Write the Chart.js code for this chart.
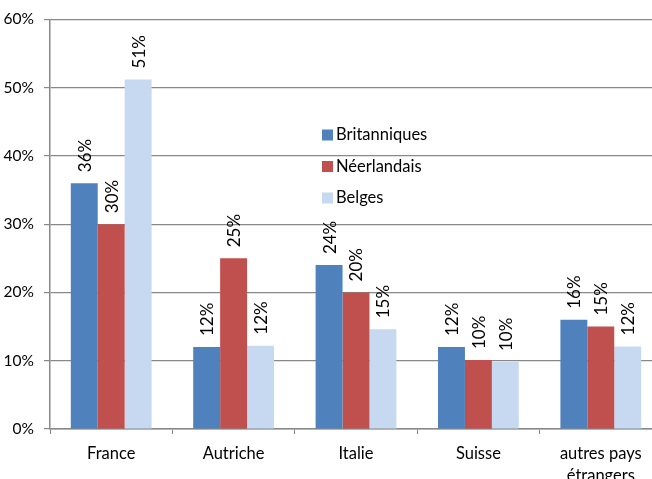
<!DOCTYPE html>
<html>
<head>
<meta charset="utf-8">
<script src="https://cdn.jsdelivr.net/npm/chart.js@4/dist/chart.umd.min.js"></script>
<style>
  html, body { margin: 0; padding: 0; background: #fff; overflow: hidden; }
  #wrap { width: 664px; height: 479px; }
</style>
</head>
<body>
<div id="wrap"><canvas id="barChart" width="664" height="479"></canvas></div>
<script>
// data
const categories = ['France', 'Autriche', 'Italie', 'Suisse', ['autres pays', 'étrangers']];
const seriesNames = ['Britanniques', 'Néerlandais', 'Belges'];
const britanniques = [36, 12, 24, 12, 16];
const neerlandais = [30, 25, 20, 10.1, 15];
const belges = [51.2, 12.2, 14.6, 9.8, 12.1];
const seriesColors = ['#4F81BD', '#C0504D', '#C6D9F1'];

const FONT = 'Lato, "Open Sans", sans-serif';

// rotated value labels above the bars
const valueLabels = {
  id: 'valueLabels',
  afterDatasetsDraw(chart) {
    const ctx = chart.ctx;
    ctx.save();
    ctx.font = '17px ' + FONT;
    ctx.fillStyle = '#000';
    ctx.textAlign = 'left';
    ctx.textBaseline = 'middle';
    chart.data.datasets.forEach(function (ds, i) {
      chart.getDatasetMeta(i).data.forEach(function (bar, j) {
        ctx.save();
        ctx.translate(bar.x + 1, bar.y - 11);
        ctx.rotate(-Math.PI / 2);
        ctx.fillText(Math.round(ds.data[j]) + '%', 0, 0);
        ctx.restore();
      });
    });
    ctx.restore();
  }
};

// legend sitting inside the plot
const innerLegend = {
  id: 'innerLegend',
  afterDraw(chart) {
    const ctx = chart.ctx;
    ctx.save();
    ctx.font = '16.5px ' + FONT;
    ctx.textBaseline = 'middle';
    chart.data.datasets.forEach(function (ds, i) {
      const y = 135 + i * 31.5;
      ctx.fillStyle = ds.backgroundColor;
      ctx.fillRect(322, y - 5.5, 11, 11);
      ctx.fillStyle = '#000';
      ctx.fillText(ds.label, 336, y);
    });
    ctx.restore();
  }
};

const ctxBar = document.getElementById('barChart');
const barChart = new Chart(ctxBar, {
  type: 'bar',
  data: {
    labels: categories,
    datasets: [
      { label: seriesNames[0], data: britanniques, backgroundColor: seriesColors[0] },
      { label: seriesNames[1], data: neerlandais, backgroundColor: seriesColors[1] },
      { label: seriesNames[2], data: belges, backgroundColor: seriesColors[2] }
    ]
  },
  options: {
    responsive: false,
    animation: false,
    layout: { padding: { top: 18, left: 0, right: 2, bottom: 0 } },
    datasets: {
      bar: { categoryPercentage: 0.66, barPercentage: 1, borderWidth: 0 }
    },
    scales: {
      x: {
        grid: {
          offset: true,
          drawOnChartArea: false,
          color: '#888',
          tickLength: 5
        },
        border: { color: '#888', width: 1.5 },
        ticks: {
          color: '#000',
          font: { family: FONT, size: 16.5, lineHeight: 1.3 },
          padding: 9,
          maxRotation: 0,
          autoSkip: false
        },
        afterFit(scale) { scale.height = 50; }
      },
      y: {
        min: 0,
        max: 60,
        ticks: {
          stepSize: 10,
          color: '#000',
          font: { family: FONT, size: 15.5 },
          padding: 10,
          callback: function (v) { return v + '%'; }
        },
        grid: { color: '#888', tickLength: 6, lineWidth: 1.2 },
        border: { color: '#888', width: 1.5 },
        afterFit(scale) { scale.width = 50; }
      }
    },
    plugins: {
      legend: { display: false },
      tooltip: { enabled: false }
    }
  },
  plugins: [valueLabels, innerLegend]
});
</script>
</body>
</html>
